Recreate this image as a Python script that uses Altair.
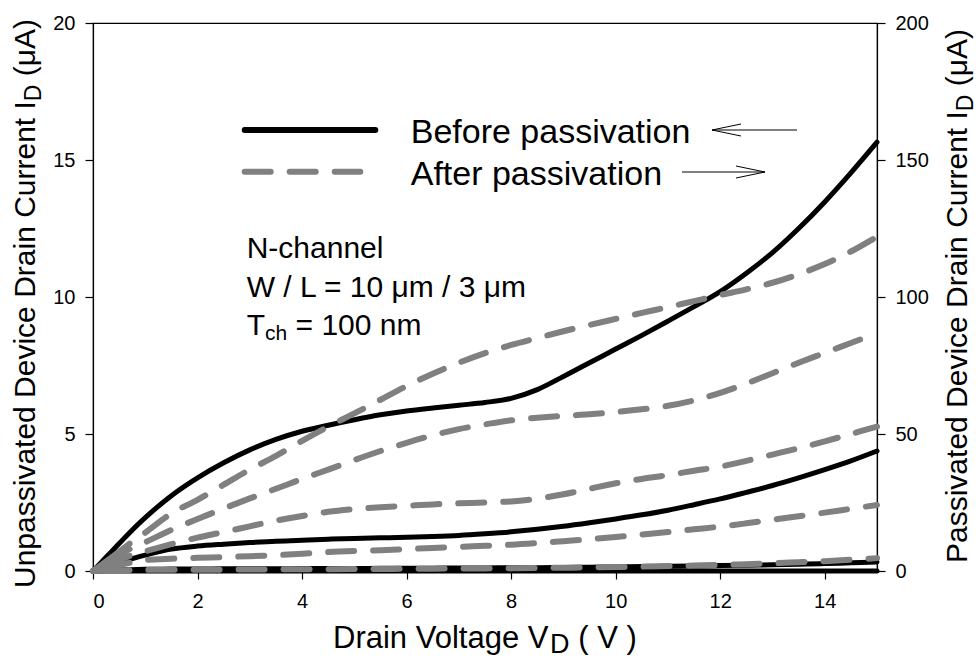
import altair as alt
import pandas as pd

# ---------------- data ----------------
VD = [0, 0.25, 0.5, 0.7, 1, 1.5, 2, 2.5, 3, 3.5, 4, 4.5, 5, 5.5, 6, 6.5, 7, 7.5,
      8, 8.5, 9, 9.5, 10, 10.5, 11, 11.5, 12, 12.5, 13, 13.5, 14, 14.5, 15]

# Before passivation (left axis, uA)
BEFORE_1 = [0, 0.5, 1.0, 1.4, 1.95, 2.75, 3.4, 3.95, 4.42, 4.8, 5.1, 5.32, 5.52, 5.7, 5.84,
            5.95, 6.05, 6.15, 6.3, 6.62, 7.1, 7.6, 8.1, 8.6, 9.12, 9.65, 10.2, 10.87, 11.62,
            12.5, 13.47, 14.53, 15.65]
BEFORE_2 = [0, 0.13, 0.27, 0.42, 0.58, 0.8, 0.91, 0.98, 1.04, 1.09, 1.12, 1.16, 1.19, 1.21,
            1.23, 1.26, 1.3, 1.36, 1.43, 1.52, 1.63, 1.76, 1.9, 2.05, 2.22, 2.42, 2.63, 2.87,
            3.12, 3.4, 3.7, 4.02, 4.38]
BEFORE_3 = [0, 0.02, 0.04, 0.05, 0.06, 0.07, 0.07, 0.08, 0.08, 0.08, 0.09, 0.09, 0.09, 0.1,
            0.1, 0.1, 0.11, 0.11, 0.12, 0.12, 0.13, 0.14, 0.15, 0.16, 0.17, 0.18, 0.2, 0.21,
            0.23, 0.25, 0.27, 0.3, 0.33]
BEFORE_4 = [0, 0, 0, 0, 0, 0, 0, 0, 0, 0, 0, 0, 0, 0, 0, 0, 0, 0, 0, 0, 0, 0, 0, 0, 0, 0,
            0, 0, 0, 0, 0, 0, 0]

# After passivation (right axis, uA)
AFTER_1 = [0, 3.5, 7, 10, 14, 21, 26, 31.5, 37, 42, 47.5, 52.7, 57.5, 62.5, 67.5, 72, 76,
           79.5, 82.5, 85, 87.5, 89.8, 92, 94.2, 96.3, 98.5, 100.7, 102.8, 105.2, 108.3,
           112, 116.6, 122]
AFTER_2 = [0, 2.8, 5.6, 8, 10.5, 15, 19, 22.8, 26.5, 30, 33.6, 37, 40.5, 43.8, 46.8, 49.5,
           51.8, 53.5, 55, 55.9, 56.6, 57.2, 58, 59, 60.3, 62.3, 65, 68.4, 72.2, 76, 79.6,
           83.2, 86.8]
AFTER_3 = [0, 2, 4, 5.5, 7.2, 9.8, 12.2, 14.2, 16.3, 18.4, 20.1, 21.6, 22.6, 23.3, 23.8,
           24.3, 24.7, 25, 25.4, 26.4, 28, 30, 32, 33.6, 35, 36.6, 38.1, 40.2, 42.5, 44.8,
           47.3, 50, 52.7]
AFTER_4 = [0, 1.1, 2.2, 3, 4, 4.5, 4.8, 5.1, 5.4, 5.8, 6.3, 6.9, 7.3, 7.6, 8.0, 8.4, 8.8,
           9.2, 9.6, 10.2, 10.9, 11.6, 12.4, 13.3, 14.2, 15.2, 16.2, 17.4, 18.7, 20, 21.3,
           22.7, 24.1]
AFTER_5 = [0, 0.1, 0.2, 0.3, 0.4, 0.45, 0.5, 0.5, 0.55, 0.6, 0.6, 0.65, 0.7, 0.75, 0.8,
           0.85, 0.9, 0.95, 1.0, 1.1, 1.2, 1.3, 1.45, 1.6, 1.8, 2.0, 2.2, 2.5, 2.8, 3.2, 3.6,
           4.1, 4.7]

X_TICKS = [0, 2, 4, 6, 8, 10, 12, 14]
LEFT_TICKS = [0, 5, 10, 15, 20]
RIGHT_TICKS = [0, 50, 100, 150, 200]

# ---------------- tables ----------------
def long(curves):
    rows = []
    for name, vals in curves.items():
        for v, i in zip(VD, vals):
            rows.append({"VD": v, "I": i, "curve": name})
    return pd.DataFrame(rows)

before_df = long({"b1": BEFORE_1, "b2": BEFORE_2, "b3": BEFORE_3, "b4": BEFORE_4})
after_df = long({"a1": AFTER_1, "a2": AFTER_2, "a3": AFTER_3, "a4": AFTER_4, "a5": AFTER_5})
after_start = after_df[after_df["VD"] <= 0.7]
after_rest = after_df[after_df["VD"] >= 0.7]

# ---------------- style ----------------
FONT = "Liberation Sans"
GRAY = "#808080"
W, H = 784, 548
INTERP = "catmull-rom"

xenc = alt.X("VD:Q", scale=alt.Scale(domain=[0, 15], nice=False),
             axis=alt.Axis(values=X_TICKS, title=None, format="d", tickSize=8,
                           labelPadding=12, labelFontSize=20, labelFont=FONT,
                           labelColor="black", domainColor="black", tickColor="black",
                           domainWidth=1.2, tickWidth=1.2, grid=False))

black = alt.Chart(before_df).mark_line(color="black", strokeWidth=5, strokeCap="round",
                                       interpolate=INTERP).encode(
    x=xenc,
    y=alt.Y("I:Q", scale=alt.Scale(domain=[0, 20], nice=False),
            axis=alt.Axis(values=LEFT_TICKS, title=None, orient="left", tickSize=8,
                          labelPadding=10, labelFontSize=20, labelFont=FONT,
                          labelColor="black", domainColor="black", tickColor="black",
                          domainWidth=1.2, tickWidth=1.2, grid=False)),
    detail="curve:N")

yright = alt.Y("I:Q", scale=alt.Scale(domain=[0, 200], nice=False),
               axis=alt.Axis(values=RIGHT_TICKS, title=None, orient="right", tickSize=8,
                             labelPadding=10, labelFontSize=20, labelFont=FONT,
                             labelColor="black", domainColor="black", tickColor="black",
                             domainWidth=1.2, tickWidth=1.2, grid=False))

gray_start = alt.Chart(after_start).mark_line(color=GRAY, strokeWidth=6, strokeCap="round",
                                              interpolate=INTERP).encode(
    x=xenc, y=yright, detail="curve:N")
gray_rest = alt.Chart(after_rest).mark_line(color=GRAY, strokeWidth=6, strokeCap="round",
                                            strokeDash=[26, 19], strokeDashOffset=26,
                                            interpolate=INTERP).encode(
    x=xenc, y=yright, detail="curve:N")
gray = alt.layer(gray_start, gray_rest)

# ---------------- text helpers ----------------
CW = {' ': 278, '(': 333, ')': 333, '/': 278, '=': 584, '-': 333, 'A': 667, 'B': 667,
      'C': 722, 'D': 722, 'I': 278, 'L': 556, 'N': 722, 'P': 667, 'T': 611, 'U': 722,
      'V': 667, 'W': 944, 'a': 556, 'c': 500, 'd': 556, 'e': 556, 'f': 278, 'g': 556,
      'h': 556, 'i': 222, 'l': 222, 'm': 833, 'n': 556, 'o': 556, 'p': 556, 'r': 333,
      's': 500, 't': 278, 'u': 556, 'v': 500, 'μ': 576}


def tw(s, size):
    return sum(CW.get(c, 556) for c in s) * size / 1000.0


def label(text, x, y, size, angle=0):
    props = dict(text=text, fontSize=size, font=FONT, color="black", align="left",
                 baseline="alphabetic")
    if angle:
        props["angle"] = angle
    return alt.Chart(alt.Data(values=[{}])).mark_text(**props).encode(
        x=alt.value(x), y=alt.value(y))


def rich(segments, x0, y0, vertical=False):
    """Place text runs one after another; leading spaces become offsets (SVG trims them)."""
    out = []
    pos = 0.0
    for text, size, shift in segments:
        stripped = text.lstrip(" ")
        pos += tw(text[: len(text) - len(stripped)], size)
        if vertical:
            out.append(label(stripped, x0 + shift, y0 - pos, size, angle=270))
        else:
            out.append(label(stripped, x0 + pos, y0 + shift, size))
        pos += tw(stripped, size)
    return out


def rule(x1, x2, y1, y2, color="black", width=1, dash=None, cap="butt"):
    props = dict(color=color, strokeWidth=width, strokeCap=cap)
    if dash:
        props["strokeDash"] = dash
    return alt.Chart(alt.Data(values=[{}])).mark_rule(**props).encode(
        x=alt.value(x1), x2=alt.value(x2), y=alt.value(y1), y2=alt.value(y2))


texts = []
# axis titles (plot-area coordinates)
texts += rich([("Unpassivated Device Drain Current I", 30, 0), ("D", 23, 6), (" (μA)", 30, 0)],
              -58, 565, vertical=True)
texts += rich([("Passivated Device Drain Current I", 30, 0), ("D", 23, 6), (" (μA)", 30, 0)],
              874, 540, vertical=True)
texts += rich([("Drain Voltage V", 31, 0), ("D", 27, 5), (" ( V )", 31, 0)], 240, 625)

# legend
texts.append(rule(151.7, 282.3, 107, 107, width=6, cap="round"))
texts.append(rule(151.7, 267.3, 148.7, 148.7, color=GRAY, width=6, dash=[26, 19], cap="round"))
texts.append(label("Before passivation", 317.7, 120.3, 34))
texts.append(label("After passivation", 317.7, 162, 34))
# arrows
texts.append(rule(619, 704, 107, 107))
texts.append(rule(619, 648, 107, 101))
texts.append(rule(619, 648, 107, 113))
texts.append(rule(589, 672, 149, 149))
texts.append(rule(672, 643, 149, 143))
texts.append(rule(672, 643, 149, 155))

# device annotation
texts.append(label("N-channel", 153.7, 235.3, 30))
texts.append(label("W / L = 10 μm / 3 μm", 153.7, 273.7, 30))
texts += rich([("T", 30, 0), ("ch", 21, 5), (" = 100 nm", 30, 0)], 153.7, 312)

chart = alt.layer(black, gray, *texts).resolve_scale(y="independent").properties(
    width=W, height=H,
    autosize=alt.AutoSizeParams(type="none"),
    padding={"left": 93, "top": 23, "right": 101, "bottom": 91},
    background="white",
).configure_view(stroke="black", strokeWidth=1.2)

chart.save("out.html", embed_options={"renderer": "svg", "actions": False})
